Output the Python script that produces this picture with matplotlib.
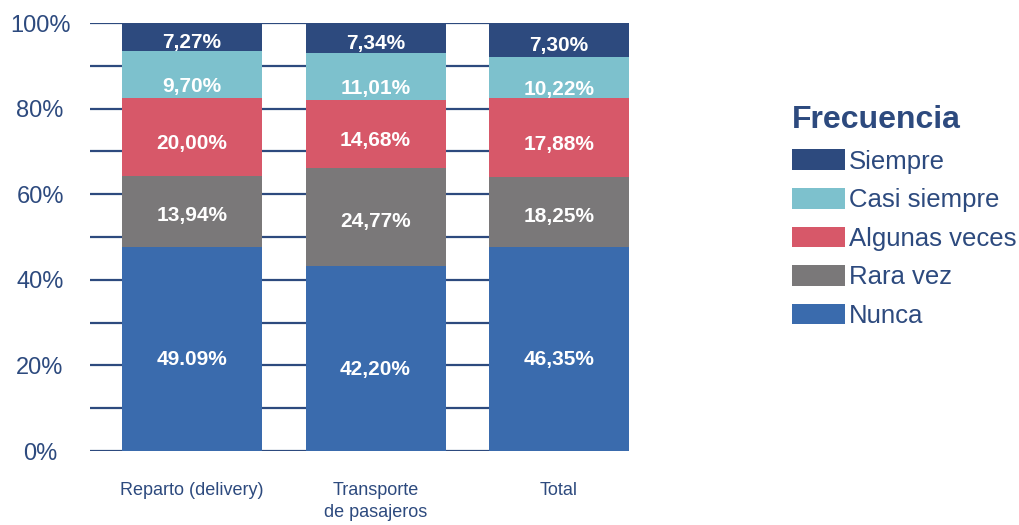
import numpy as np
import matplotlib
matplotlib.use('Agg')
import matplotlib.pyplot as plt

# data (bar heights) and its printed labels
categories = ['Reparto (delivery)', 'Transporte\nde pasajeros', 'Total']
series = ['Nunca', 'Rara vez', 'Algunas veces', 'Casi siempre', 'Siempre']
nunca = [47.7, 43.3, 47.7]
rara_vez = [16.6, 22.8, 16.3]
algunas_veces = [18.1, 15.9, 18.4]
casi_siempre = [11.0, 11.0, 9.6]
siempre = [6.6, 7.0, 8.0]
label_nunca = ['49.09%', '42,20%', '46,35%']
label_rara_vez = ['13,94%', '24,77%', '18,25%']
label_algunas = ['20,00%', '14,68%', '17,88%']
label_casi = ['9,70%', '11,01%', '10,22%']
label_siempre = ['7,27%', '7,34%', '7,30%']
yticks = [0, 20, 40, 60, 80, 100]

colors = ['#3A6BAD', '#7A7879', '#D75869', '#7DC1CD', '#2D4A7E']
navy = '#2D4A7E'
# vertical nudge of the value labels (in %), per series
label_shift = [-2.5, -1.0, -1.5, -2.7, -1.2]

plt.rcParams['font.family'] = ['Liberation Sans', 'DejaVu Sans']

fig = plt.figure(figsize=(10.19, 5.25), dpi=100)
ax = fig.add_axes([90 / 1019, 1 - 451 / 525, 539 / 1019, 428 / 525])

x = np.arange(len(categories))
width = 0.763
values = [nunca, rara_vez, algunas_veces, casi_siempre, siempre]
labels = [label_nunca, label_rara_vez, label_algunas, label_casi, label_siempre]

bottom = np.zeros(len(categories))
handles = []
for vals, labs, col, name, dy in zip(values, labels, colors, series, label_shift):
    vals = np.array(vals)
    b = ax.bar(x, vals, width, bottom=bottom, color=col, label=name, zorder=3)
    handles.append(b)
    for xi, yb, v, t in zip(x, bottom, vals, labs):
        ax.text(xi, yb + v / 2 + dy, t, ha='center', va='center', color='white',
                fontsize=15, fontweight='bold', zorder=4)
    bottom += vals

xmin, xmax = -0.556, 2 + width / 2
ax.set_xlim(xmin, xmax)
ax.set_ylim(0, 100)
for g in range(10, 101, 10):
    ax.hlines(g, xmin, xmax, color=navy, lw=1.6, zorder=1)
ax.hlines(0, xmin, 2.207, color=navy, lw=1.6, zorder=1)

for s in ax.spines.values():
    s.set_visible(False)
ax.set_yticks(yticks)
ax.set_yticklabels([f'{t}%' for t in yticks], fontsize=17, color=navy, ha='center')
ax.set_xticks(x)
ax.set_xticklabels(categories, fontsize=13, color=navy, linespacing=1.45)
ax.tick_params(axis='y', length=0, pad=36)
ax.tick_params(axis='x', length=0, pad=22)

leg = fig.legend(handles[::-1], series[::-1], loc='upper left',
                 bbox_to_anchor=(792 / 1019, 1 - 105 / 525), frameon=False,
                 fontsize=18.5, handlelength=2.06, handleheight=0.86,
                 handletextpad=0.16, labelspacing=0.56, borderpad=0, borderaxespad=0,
                 title='Frecuencia', alignment='left',
                 title_fontproperties={'size': 23, 'weight': 'bold'})
leg.get_title().set_color(navy)
for t in leg.get_texts():
    t.set_color(navy)

fig.savefig('out.png', dpi=100)
